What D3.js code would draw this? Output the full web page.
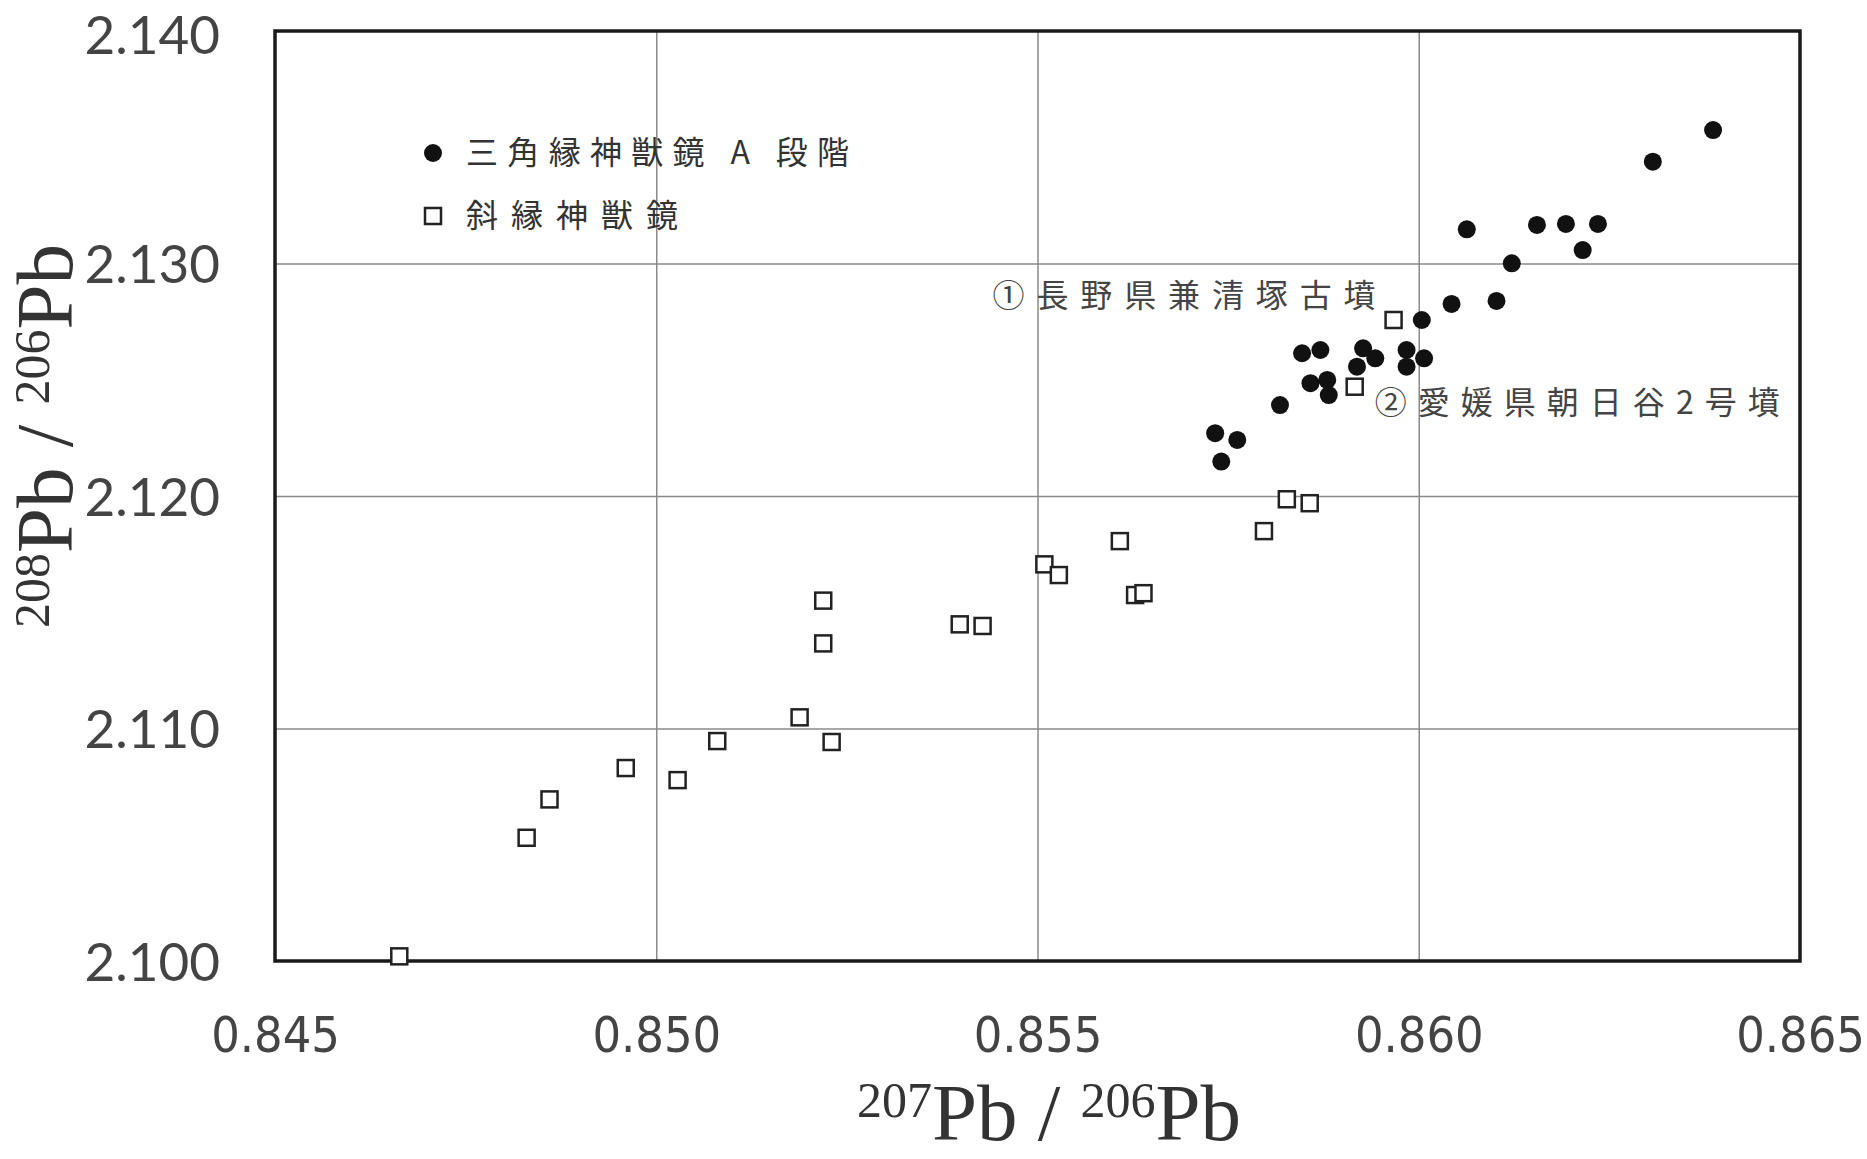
<!DOCTYPE html>
<html>
<head>
<meta charset="utf-8">
<script src="https://cdn.jsdelivr.net/npm/d3@7"></script>
<style>
  body { margin: 0; background: #fff; }
</style>
</head>
<body>
<svg class="leadPlot"></svg>
<script>
// 三角縁神獣鏡 A段階 (filled circles)
const sankakuX = [0.86386, 0.86307, 0.86063, 0.86155, 0.86193, 0.86235, 0.86215, 0.86122, 0.86102,
                  0.86043, 0.86004, 0.85847, 0.85871, 0.85927, 0.85943, 0.85919, 0.85984, 0.86007,
                  0.85984, 0.85858, 0.85880, 0.85882, 0.85818, 0.85733, 0.85762, 0.85741];
const sankakuY = [2.13574, 2.13438, 2.13147, 2.13166, 2.13170, 2.13170, 2.13058, 2.13001, 2.12839,
                  2.12826, 2.12757, 2.12614, 2.12628, 2.12635, 2.12592, 2.12556, 2.12628, 2.12592,
                  2.12556, 2.12485, 2.12499, 2.12434, 2.12391, 2.12270, 2.12241, 2.12148];

// 斜縁神獣鏡 (open squares)
const shaenX = [0.84663, 0.84830, 0.84860, 0.84960, 0.85028, 0.85080, 0.85188, 0.85230, 0.85219,
                0.85219, 0.85398, 0.85428, 0.85509, 0.85528, 0.85608, 0.85628, 0.85639, 0.85797,
                0.85827, 0.85857, 0.85916, 0.85967];
const shaenY = [2.1002, 2.1053, 2.10695, 2.1083, 2.10778, 2.10946, 2.11048, 2.10942, 2.11550,
                2.11366, 2.11448, 2.11441, 2.11706, 2.11660, 2.11806, 2.11574, 2.11582, 2.11849,
                2.11986, 2.11969, 2.12470, 2.12757];

const xTicks = [0.845, 0.850, 0.855, 0.860, 0.865];
const yTicks = [2.100, 2.110, 2.120, 2.130, 2.140];

const legendLabels = ["三角縁神獣鏡 A 段階", "斜縁神獣鏡"];
// labelled points: [x, y, text]
const notes = [
    [0.85967, 2.12757, "①長野県兼清塚古墳"],
    [0.85916, 2.12470, "②愛媛県朝日谷2号墳"]
];

const margin = {top: 31, right: 67, bottom: 198, left: 275},
    width = 1867 - margin.left - margin.right,
    height = 1159 - margin.top - margin.bottom;

const root = d3.select(".leadPlot")
    .attr("width", 1867)
    .attr("height", 1159);

const svg = root.append("g")
    .attr("transform", `translate(${margin.left},${margin.top})`);

const x = d3.scaleLinear().domain([0.845, 0.865]).range([0, width]);
const y = d3.scaleLinear().domain([2.100, 2.140]).range([height, 0]);

// grid
svg.append("g")
    .attr("class", "grid")
    .attr("transform", `translate(0,${height})`)
    .call(d3.axisBottom(x).tickValues(xTicks.slice(1, -1)).tickSize(-height).tickFormat(""))
    .call(g => g.select(".domain").remove())
    .selectAll("line").attr("stroke", "#8a8a8a").attr("stroke-width", 1.5);

svg.append("g")
    .attr("class", "grid")
    .call(d3.axisLeft(y).tickValues(yTicks.slice(1, -1)).tickSize(-width).tickFormat(""))
    .call(g => g.select(".domain").remove())
    .selectAll("line").attr("stroke", "#8a8a8a").attr("stroke-width", 1.5);

// axes tick labels
const xAxis = svg.append("g")
    .attr("transform", `translate(0,${height})`)
    .call(d3.axisBottom(x).tickValues(xTicks).tickSize(0).tickFormat(d3.format(".3f")));
xAxis.select(".domain").remove();
xAxis.selectAll(".tick text")
    .attr("y", 91)
    .attr("dy", 0)
    .style("font-family", "'DejaVu Sans Condensed', 'DejaVu Sans', sans-serif")
    .style("font-size", "50px")
    .style("fill", "#444");

const yAxis = svg.append("g")
    .call(d3.axisLeft(y).tickValues(yTicks).tickSize(0).tickFormat(d3.format(".3f")));
yAxis.select(".domain").remove();
yAxis.selectAll(".tick text")
    .attr("x", -55)
    .attr("y", d => d === 2.140 ? 3 : 0)
    .attr("dy", "0.36em")
    .style("font-family", "Lato, 'Open Sans', sans-serif")
    .style("font-size", "53px")
    .style("fill", "#444");

// frame
svg.append("rect")
    .attr("width", width)
    .attr("height", height)
    .attr("fill", "none")
    .attr("stroke", "#1a1a1a")
    .attr("stroke-width", 3.5);

// axis titles
function isoTitle(sel, a, b) {
    sel.style("font-family", "'Liberation Serif', 'DejaVu Serif', serif")
        .style("fill", "#333")
        .attr("text-anchor", "middle");
    sel.append("tspan").style("font-size", "50px").attr("dy", -23).text(a);
    sel.append("tspan").style("font-size", "81px").attr("dy", 23).text("Pb / ");
    sel.append("tspan").style("font-size", "50px").attr("dy", -23).text(b);
    sel.append("tspan").style("font-size", "81px").attr("dy", 23).text("Pb");
}

root.append("text")
    .attr("transform", "translate(1049,1140)")
    .call(isoTitle, "207", "206");

root.append("text")
    .attr("transform", "translate(72,436) rotate(-90)")
    .call(isoTitle, "208", "206");

// points
svg.selectAll(".sq")
    .data(d3.zip(shaenX, shaenY))
    .enter()
    .append("rect")
    .attr("class", "sq")
    .attr("x", d => x(d[0]) - 8)
    .attr("y", d => y(d[1]) - 8)
    .attr("width", 16)
    .attr("height", 16)
    .attr("fill", "#fff")
    .attr("stroke", "#222")
    .attr("stroke-width", 2.5);

svg.selectAll(".dot")
    .data(d3.zip(sankakuX, sankakuY))
    .enter()
    .append("circle")
    .attr("class", "dot")
    .attr("cx", d => x(d[0]))
    .attr("cy", d => y(d[1]))
    .attr("r", 9)
    .attr("fill", "#111");

// legend
const cjk = "'Noto Sans CJK JP', 'Noto Sans CJK SC', sans-serif";
const legend = root.append("g");
legend.append("circle").attr("cx", 433).attr("cy", 153).attr("r", 9).attr("fill", "#111");
legend.append("rect").attr("x", 425).attr("y", 208).attr("width", 16).attr("height", 16)
    .attr("fill", "#fff").attr("stroke", "#222").attr("stroke-width", 2.5);
legend.selectAll("text")
    .data(legendLabels)
    .enter()
    .append("text")
    .attr("x", 466)
    .attr("y", (d, i) => 153 + i * 63)
    .attr("dy", "0.35em")
    .attr("textLength", (d, i) => i === 0 ? 383 : 212)
    .attr("lengthAdjust", "spacing")
    .style("font-family", cjk)
    .style("font-size", "32px")
    .style("fill", "#333")
    .text(d => d);

// annotations
svg.append("text")
    .attr("x", x(notes[0][0]) - 18)
    .attr("y", y(notes[0][1]) - 24)
    .attr("dy", "0.35em")
    .attr("text-anchor", "end")
    .attr("textLength", 383)
    .attr("lengthAdjust", "spacing")
    .style("font-family", cjk)
    .style("font-size", "32px")
    .style("fill", "#444")
    .text(notes[0][2]);

svg.append("text")
    .attr("x", x(notes[1][0]) + 20)
    .attr("y", y(notes[1][1]) + 16)
    .attr("dy", "0.35em")
    .attr("textLength", 405)
    .attr("lengthAdjust", "spacing")
    .style("font-family", cjk)
    .style("font-size", "32px")
    .style("fill", "#444")
    .text(notes[1][2]);
</script>
</body>
</html>
